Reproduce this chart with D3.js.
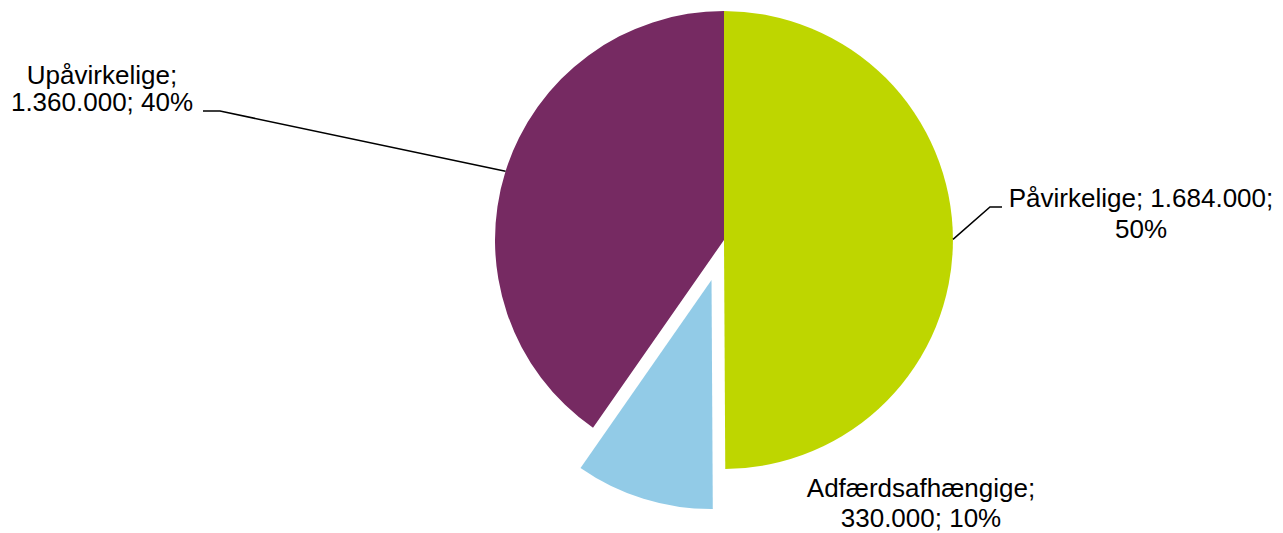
<!DOCTYPE html>
<html>
<head>
<meta charset="utf-8">
<script src="https://cdn.jsdelivr.net/npm/d3@7"></script>
<style>
  html, body { margin: 0; padding: 0; background: #fff; }
  svg { display: block; }
  text { font-family: "Liberation Sans", Arial, sans-serif; font-size: 26px; fill: #000; }
</style>
</head>
<body>
<svg id="chart" width="1283" height="533"></svg>
<script>
// ---- data ----
const categories = ["Påvirkelige", "Adfærdsafhængige", "Upåvirkelige"];
const values = [1684000, 330000, 1360000];
const colors = ["#bed600", "#92cbe7", "#762a62"];
const exploded = [false, true, false];

// ---- layout ----
const cx = 724, cy = 240, radius = 229, explodeDist = 42;
const labelLayout = {
  "Påvirkelige":      { x: 1141, y: 207, lh: 31, lines: l => [l.name + "; " + l.val + ";", l.pct], leader: [[990, 207], [1002, 207]] },
  "Adfærdsafhængige": { x: 921,  y: 497, lh: 30, lines: l => [l.name + ";", l.val + "; " + l.pct], leader: null },
  "Upåvirkelige":     { x: 102,  y: 84,  lh: 27, lines: l => [l.name + ";", l.val + "; " + l.pct], leader: [[220, 111], [203, 111]] }
};

const locale = d3.formatLocale({ decimal: ",", thousands: ".", grouping: [3], currency: ["", " kr."] });
const fmtVal = locale.format(",d");
const total = d3.sum(values);
const fmtPct = v => Math.round(v / total * 100) + "%";

const data = categories.map((c, i) => ({ name: c, value: values[i], color: colors[i], exploded: exploded[i] }));

const svg = d3.select("#chart");
const g = svg.append("g").attr("transform", `translate(${cx},${cy})`);

const pie = d3.pie().value(d => d.value).sort(null);
const arc = d3.arc().innerRadius(0).outerRadius(radius);
const arcs = pie(data);

const offset = d => {
  if (!d.data.exploded) return [0, 0];
  const a = (d.startAngle + d.endAngle) / 2;
  return [Math.sin(a) * explodeDist, -Math.cos(a) * explodeDist];
};

g.selectAll("path.slice")
  .data(arcs)
  .join("path")
  .attr("class", "slice")
  .attr("d", arc)
  .attr("fill", d => d.data.color)
  .attr("transform", d => { const o = offset(d); return `translate(${o[0]},${o[1]})`; });

// leader lines
arcs.forEach(d => {
  const L = labelLayout[d.data.name];
  if (!L.leader) return;
  const a = (d.startAngle + d.endAngle) / 2;
  const o = offset(d);
  const p0 = [cx + o[0] + Math.sin(a) * radius, cy + o[1] - Math.cos(a) * radius];
  const pts = [p0].concat(L.leader);
  svg.append("path")
    .attr("d", d3.line()(pts))
    .attr("fill", "none")
    .attr("stroke", "#000")
    .attr("stroke-width", 1.5);
});

// labels
arcs.forEach(d => {
  const L = labelLayout[d.data.name];
  const lines = L.lines({ name: d.data.name, val: fmtVal(d.data.value), pct: fmtPct(d.data.value) });
  const t = svg.append("text").attr("text-anchor", "middle");
  lines.forEach((s, i) => {
    t.append("tspan").attr("x", L.x).attr("y", L.y + i * L.lh).text(s);
  });
});
</script>
</body>
</html>
